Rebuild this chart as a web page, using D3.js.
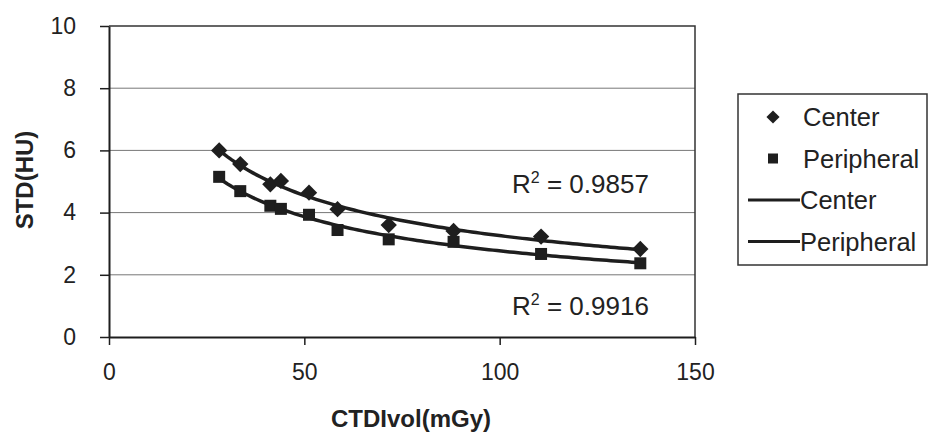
<!DOCTYPE html>
<html>
<head>
<meta charset="utf-8">
<script src="https://cdn.jsdelivr.net/npm/d3@7"></script>
<style>
  body { margin: 0; background: #fff; }
  text { font-family: "Liberation Sans", Arial, sans-serif; fill: #222; }
</style>
</head>
<body>
<div id="chart"></div>
<script>
// values
const ctdiVol = [28.2, 33.6, 41.3, 44.0, 51.2, 58.5, 71.6, 88.2, 110.6, 136.0];
const centerStd = [6.0, 5.56, 4.91, 5.02, 4.64, 4.11, 3.6, 3.41, 3.23, 2.83];
const peripheralStd = [5.15, 4.69, 4.22, 4.12, 3.93, 3.44, 3.14, 3.06, 2.67, 2.37];
const xTicks = [0, 50, 100, 150];
const yTicks = [0, 2, 4, 6, 8, 10];
const r2Labels = ["0.9857", "0.9916"];
const legendLabels = ["Center", "Peripheral", "Center", "Peripheral"];

const margin = {top: 26, right: 233, bottom: 99, left: 109};
const W = 928, H = 436;
const width = W - margin.left - margin.right;
const height = H - margin.top - margin.bottom;
const ink = "#1e1e1e";

const svg = d3.select("#chart")
    .append("svg")
    .attr("width", W)
    .attr("height", H)
    .append("g")
    .attr("transform", `translate(${margin.left},${margin.top})`);

const x = d3.scaleLinear().domain([0, 150]).range([0, width]);
const y = d3.scaleLinear().domain([0, 10]).range([height, 0]);

// gridlines
svg.append("g")
    .selectAll("line")
    .data(yTicks.filter(d => d > 0 && d < 10))
    .enter()
    .append("line")
    .attr("x1", 0).attr("x2", width)
    .attr("y1", d => y(d)).attr("y2", d => y(d))
    .attr("stroke", "#777")
    .attr("stroke-width", 1);

// plot border top/right
svg.append("path")
    .attr("d", `M0,${y(10)}H${width}V${height}`)
    .attr("fill", "none")
    .attr("stroke", "#333")
    .attr("stroke-width", 1.5);

const yAxis = svg.append("g")
    .call(d3.axisLeft(y).tickValues(yTicks).tickSize(9).tickPadding(24).tickSizeOuter(0));
const xAxis = svg.append("g")
    .attr("transform", `translate(0,${height})`)
    .call(d3.axisBottom(x).tickValues(xTicks).tickSize(8).tickPadding(19).tickSizeOuter(0));

[xAxis, yAxis].forEach(g => {
    g.select(".domain").attr("stroke", ink).attr("stroke-width", 2);
    g.selectAll(".tick line").attr("stroke", ink).attr("stroke-width", 1.5);
    g.selectAll("text").style("font-size", "23px").attr("fill", ink);
});

// power trend lines (least squares in log space)
function powerFit(xs, ys) {
    const lx = xs.map(Math.log), ly = ys.map(Math.log);
    const mx = d3.mean(lx), my = d3.mean(ly);
    const b = d3.sum(lx, (v, i) => (v - mx) * (ly[i] - my)) / d3.sum(lx, v => (v - mx) ** 2);
    const a = Math.exp(my - b * mx);
    return v => a * Math.pow(v, b);
}

const series = [centerStd, peripheralStd];
const line = d3.line().x(d => x(d[0])).y(d => y(d[1]));
series.forEach(ys => {
    const f = powerFit(ctdiVol, ys);
    const [x0, x1] = d3.extent(ctdiVol);
    const pts = d3.range(0, 101).map(i => {
        const v = x0 + (x1 - x0) * i / 100;
        return [v, f(v)];
    });
    svg.append("path")
        .attr("d", line(pts))
        .attr("fill", "none")
        .attr("stroke", ink)
        .attr("stroke-width", 3.5);
});

// markers
svg.selectAll(".center")
    .data(ctdiVol)
    .enter()
    .append("path")
    .attr("d", d3.symbol(d3.symbolDiamond2, 170)())
    .attr("transform", (d, i) => `translate(${x(d)},${y(centerStd[i])})`)
    .attr("fill", ink);

svg.selectAll(".peripheral")
    .data(ctdiVol)
    .enter()
    .append("rect")
    .attr("x", d => x(d) - 6)
    .attr("y", (d, i) => y(peripheralStd[i]) - 6)
    .attr("width", 12)
    .attr("height", 12)
    .attr("fill", ink);

// R² labels
const r2 = svg.append("g").style("font-size", "26px");
[[403, 167], [403, 289]].forEach((p, i) => {
    const t = r2.append("text").attr("x", p[0]).attr("y", p[1]);
    t.append("tspan").text("R");
    t.append("tspan").attr("dy", -10).style("font-size", "16px").text("2");
    t.append("tspan").attr("dy", 10).text(" = " + r2Labels[i]);
});

// axis titles
svg.append("text")
    .attr("text-anchor", "middle")
    .attr("x", 302)
    .attr("y", height + 90)
    .style("font-size", "24px")
    .style("font-weight", "bold")
    .text("CTDIvol(mGy)");

svg.append("text")
    .attr("text-anchor", "middle")
    .attr("transform", "rotate(-90)")
    .attr("x", -154)
    .attr("y", -76)
    .style("font-size", "24px")
    .style("font-weight", "bold")
    .text("STD(HU)");

// legend
const legend = d3.select("svg").append("g").attr("transform", "translate(738,94)");
legend.append("rect")
    .attr("width", 189).attr("height", 171)
    .attr("fill", "#fff")
    .attr("stroke", "#333")
    .attr("stroke-width", 1.5);

legendLabels.forEach((lab, i) => {
    const cy = 23 + i * 41.5;
    const row = legend.append("g").attr("transform", `translate(0,${cy})`);
    if (i === 0) {
        row.append("path").attr("d", d3.symbol(d3.symbolDiamond2, 110)())
            .attr("transform", "translate(35,0)").attr("fill", ink);
    } else if (i === 1) {
        row.append("rect").attr("x", 30).attr("y", -5).attr("width", 10).attr("height", 10).attr("fill", ink);
    } else {
        row.append("line").attr("x1", 10).attr("x2", 62).attr("stroke", ink).attr("stroke-width", 3);
    }
    row.append("text")
        .attr("x", i < 2 ? 65 : 62)
        .attr("dy", "0.36em")
        .style("font-size", "25.5px")
        .text(lab);
});
</script>
</body>
</html>
